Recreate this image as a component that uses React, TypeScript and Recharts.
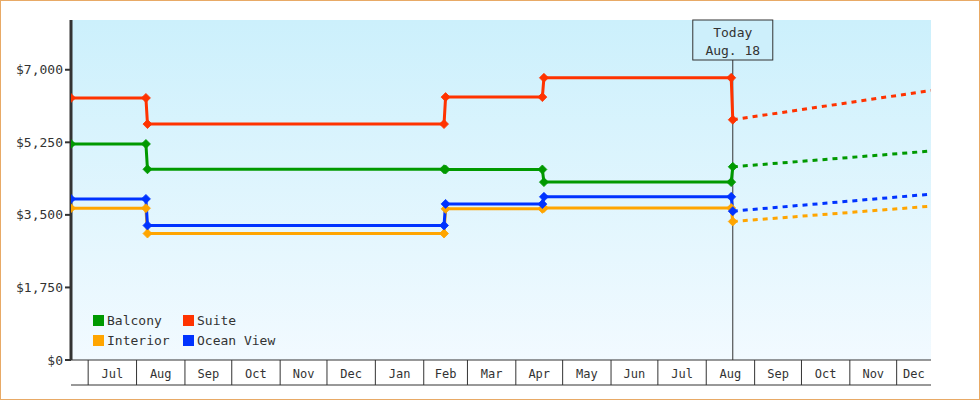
import React from "react";
import { LineChart, Line, XAxis, YAxis, CartesianGrid, ReferenceLine } from "recharts";

const FONT = "'DejaVu Sans Mono', monospace";
const INK = "#333";

// price history points (ISO dates) and values per cabin type
const DATES = [
  "2022-06-20", "2022-08-07", "2022-08-08", "2023-02-14", "2023-02-15",
  "2023-04-18", "2023-04-19", "2023-08-17", "2023-08-18",
];
const BALCONY = [5210, 5210, 4600, 4600, 4595, 4595, 4290, 4290, 4660];
const SUITE = [6320, 6320, 5690, 5690, 6340, 6340, 6805, 6805, 5795];
const INTERIOR = [3662, 3662, 3050, 3050, 3645, 3645, 3665, 3665, 3340];
const OCEAN_VIEW = [3885, 3885, 3245, 3245, 3765, 3760, 3935, 3935, 3590];

// projection from today to the end of the range
const FORECAST_DATES = ["2023-08-18", "2023-12-23"];
const BALCONY_FC = [4660, 5040];
const SUITE_FC = [5795, 6500];
const INTERIOR_FC = [3340, 3710];
const OCEAN_VIEW_FC = [3590, 4000];

const RANGE = ["2022-06-20", "2023-12-23"];
const TODAY = "2023-08-18";
const TODAY_TEXT = ["Today", "Aug. 18"];

const MONTH_STARTS = [
  "2022-07-01", "2022-08-01", "2022-09-01", "2022-10-01", "2022-11-01", "2022-12-01",
  "2023-01-01", "2023-02-01", "2023-03-01", "2023-04-01", "2023-05-01", "2023-06-01",
  "2023-07-01", "2023-08-01", "2023-09-01", "2023-10-01", "2023-11-01", "2023-12-01",
];
const MONTH_NAMES = [
  "Jul", "Aug", "Sep", "Oct", "Nov", "Dec", "Jan", "Feb", "Mar",
  "Apr", "May", "Jun", "Jul", "Aug", "Sep", "Oct", "Nov", "Dec",
];
const Y_TICKS = [0, 1750, 3500, 5250, 7000];

const SERIES = [
  { name: "Interior", color: "#ffa500", values: INTERIOR, fc: INTERIOR_FC },
  { name: "Ocean View", color: "#0033ff", values: OCEAN_VIEW, fc: OCEAN_VIEW_FC },
  { name: "Balcony", color: "#009900", values: BALCONY, fc: BALCONY_FC },
  { name: "Suite", color: "#ff3300", values: SUITE, fc: SUITE_FC },
];
const LEGEND_ORDER = ["Balcony", "Suite", "Interior", "Ocean View"];

const day = (iso: string) => Date.parse(iso + "T00:00:00Z") / 86400000;
const domain = [day(RANGE[0]), day(RANGE[1])];
const starts = MONTH_STARTS.map(day);
const labelAt = new Map<number, string>();
starts.forEach((s, i) => {
  const next = i + 1 < starts.length ? starts[i + 1] : domain[1];
  labelAt.set((s + next) / 2, MONTH_NAMES[i]);
});
const xTicks = [...starts, ...labelAt.keys()];

const usd = (v: number) => "$" + v.toLocaleString("en-US");

const diamond = (color: string) => (p: any) => {
  const r = 4.5;
  return (
    <path
      key={`d-${p.index}`}
      d={`M${p.cx},${p.cy - r}L${p.cx + r},${p.cy}L${p.cx},${p.cy + r}L${p.cx - r},${p.cy}Z`}
      fill={color}
      stroke={color}
      strokeWidth={0.8}
    />
  );
};

function MonthTick(p: any) {
  const v = p.payload.value;
  const lbl = labelAt.get(v);
  if (lbl) {
    return (
      <text x={p.x} y={p.y + 18} textAnchor="middle" fill={INK} fontSize={12} fontFamily={FONT}>
        {lbl}
      </text>
    );
  }
  return <line x1={p.x} y1={p.y} x2={p.x} y2={p.y + 25} stroke={INK} strokeWidth={1} />;
}

function TodayLabel(p: any) {
  const { x, y } = p.viewBox;
  return (
    <g>
      <rect x={x - 40} y={y} width={80} height={40} fill="#cdeffb" stroke={INK} strokeWidth={1} />
      <text x={x} y={y + 17} textAnchor="middle" fill={INK} fontSize={13} fontFamily={FONT}>
        {TODAY_TEXT[0]}
      </text>
      <text x={x} y={y + 35} textAnchor="middle" fill={INK} fontSize={13} fontFamily={FONT}>
        {TODAY_TEXT[1]}
      </text>
    </g>
  );
}

export default function App() {
  const colorOf = (n: string) => SERIES.find((s) => s.name === n)!.color;
  return (
    <div
      style={{
        position: "relative",
        width: 980,
        height: 400,
        boxSizing: "border-box",
        border: "1px solid #e8aa66",
        background: "#fff",
      }}
    >
      <style>{"body{margin:0}"}</style>
      <LineChart width={978} height={398} margin={{ top: 19, right: 48, bottom: 13, left: 0 }}>
        <defs>
          <linearGradient id="bg" x1="0" y1="0" x2="0" y2="1">
            <stop offset="0%" stopColor="#ccf0fc" />
            <stop offset="100%" stopColor="#f2faff" />
          </linearGradient>
        </defs>
        <CartesianGrid horizontal={false} vertical={false} fill="url(#bg)" stroke="none" />
        <XAxis
          dataKey="t"
          type="number"
          domain={domain}
          allowDataOverflow
          ticks={xTicks}
          interval={0}
          tickLine={false}
          tickSize={0}
          tickMargin={0}
          height={25}
          tick={<MonthTick />}
          axisLine={{ stroke: INK, strokeWidth: 1 }}
        />
        <XAxis
          xAxisId="band"
          type="number"
          domain={domain}
          allowDataOverflow
          height={1}
          tick={false}
          tickLine={false}
          axisLine={{ stroke: INK, strokeWidth: 1 }}
        />
        <YAxis
          type="number"
          domain={[0, 8200]}
          allowDataOverflow
          ticks={Y_TICKS}
          interval={0}
          width={70}
          tickFormatter={usd}
          tickSize={6}
          tickMargin={2}
          tick={{ fill: INK, fontSize: 13, fontFamily: FONT }}
          tickLine={{ stroke: INK, strokeWidth: 2 }}
          axisLine={{ stroke: INK, strokeWidth: 3 }}
        />
        <ReferenceLine x={day(TODAY)} stroke={INK} strokeWidth={1} label={<TodayLabel />} />
        {SERIES.map((s) => (
          <Line
            key={s.name + "-fc"}
            data={FORECAST_DATES.map((d, i) => ({ t: day(d), v: s.fc[i] }))}
            dataKey="v"
            name={s.name + " forecast"}
            type="linear"
            stroke={s.color}
            strokeWidth={3}
            strokeDasharray="5 5"
            dot={false}
            activeDot={false}
            isAnimationActive={false}
          />
        ))}
        {SERIES.map((s) => (
          <Line
            key={s.name}
            data={DATES.map((d, i) => ({ t: day(d), v: s.values[i] }))}
            dataKey="v"
            name={s.name}
            type="linear"
            stroke={s.color}
            strokeWidth={3}
            dot={diamond(s.color)}
            activeDot={false}
            isAnimationActive={false}
          />
        ))}
      </LineChart>
      <div
        style={{
          position: "absolute",
          left: 92,
          top: 310,
          display: "grid",
          gridTemplateColumns: "90px 110px",
          rowGap: 2,
          fontFamily: FONT,
          fontSize: 13,
          color: INK,
        }}
      >
        {LEGEND_ORDER.map((n) => (
          <span key={n} style={{ display: "flex", alignItems: "center", height: 18 }}>
            <span style={{ width: 11, height: 11, background: colorOf(n), marginRight: 3 }} />
            {n}
          </span>
        ))}
      </div>
    </div>
  );
}
